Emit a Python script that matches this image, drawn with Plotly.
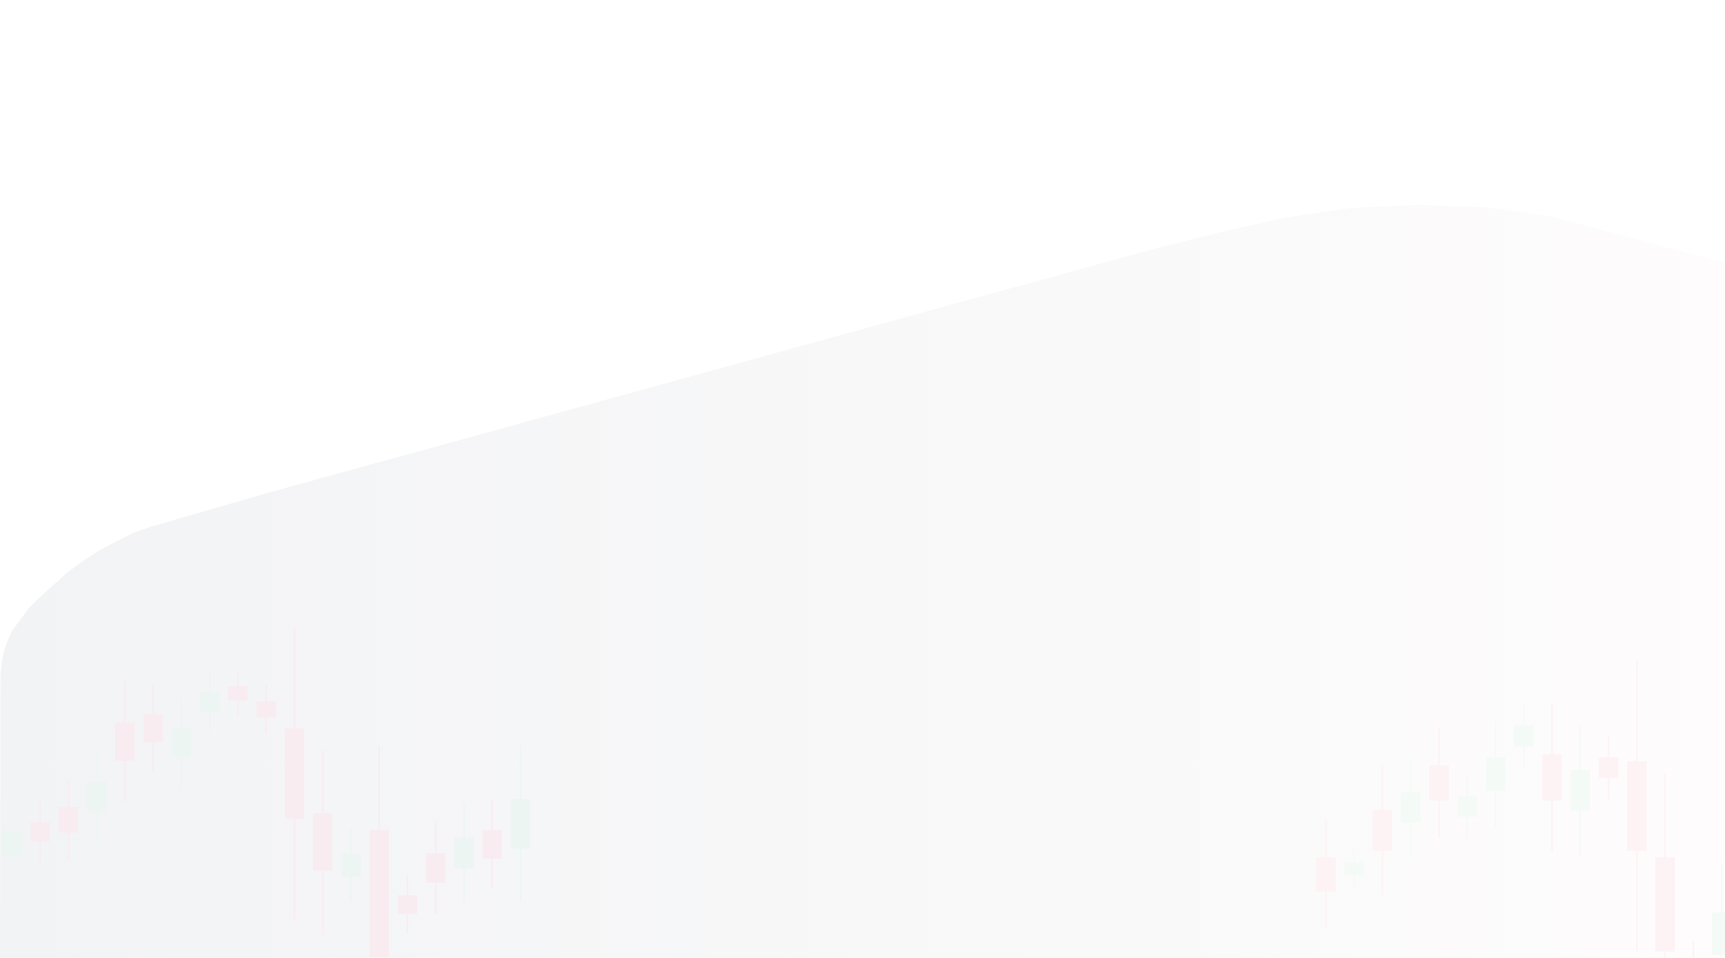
import plotly.graph_objects as go

#%% backdrop ridge (left edge -> peak -> right edge), px across / height up
ridge_x = [0, 0, 0.5, 1.7, 3.5, 6.7, 12, 20, 29, 40, 53, 66.7, 83, 100, 117, 133, 150, 167, 200, 260,
           1150, 1217, 1283, 1350, 1417, 1483, 1550, 1725, 1725]
ridge_h = [0, 271, 283, 295, 305, 315, 327, 338, 350, 361, 373, 385, 397, 408, 417, 425, 431, 436, 446, 463,
           708, 725, 740, 750, 753, 751, 742, 695, 0]

#%% faint candles, left cluster
left_idx = list(range(19))
left_open = [102, 135.3, 150, 147.3, 234.7, 243, 202, 247, 271.3, 256,
             228.7, 144, 82, 127.3, 62, 104, 90.3, 127.3, 110.3]
left_close = [126.3, 117.3, 126.3, 176, 198, 216.3, 228.7, 265.7, 258.3, 241.3,
              140.3, 88.3, 104, 2, 44.7, 76, 119.7, 100.3, 158]
left_high = [154.7, 156.3, 178, 208, 276.3, 274, 260.3, 287.3, 287.3, 273,
             330.3, 208, 129.7, 212.3, 82.7, 137, 154, 158.7, 212.3]
left_low = [74, 96, 98.7, 114.7, 156.3, 184.7, 170.3, 225.3, 242.7, 224,
            39, 23.3, 56.3, -5, 24, 44, 56.3, 70, 56.3]

#%% faint candles, right cluster
right_idx = [46.5 + k for k in range(15)]
right_open = [100, 84, 147.3, 136.3, 192, 142, 168, 212.3, 203, 148,
              200, 196, 100, -10, 3.7]
right_close = [67.3, 94.7, 108, 165, 158.3, 161, 200, 232, 158.3, 187.3,
               181, 108, 7.3, -30, 45]
right_high = [138, 107.3, 193, 198.7, 230.7, 182.3, 237, 254, 254.7, 233,
              222, 297.3, 184.7, 16.3, 94.7]
right_low = [30.3, 71.3, 63, 103, 120.3, 120.3, 131.3, 190.3, 107.3, 102,
             159, 7.3, -10, -40, -10]

fig = go.Figure()

fig.add_trace(go.Scatter(
    x=ridge_x, y=ridge_h, mode='lines', line=dict(width=0),
    fill='toself',
    fillgradient=dict(type='horizontal',
                      colorscale=[[0, '#f2f3f5'], [0.5, '#f8f8f9'], [1, '#fefcfd']]),
    hoverinfo='skip', showlegend=False,
))


def candles(x, o, h, l, c, up, down):
    return go.Candlestick(
        x=x, open=o, high=h, low=l, close=c,
        increasing=dict(line=dict(color=up, width=1.5), fillcolor=up),
        decreasing=dict(line=dict(color=down, width=1.5), fillcolor=down),
        whiskerwidth=0, hoverinfo='skip', showlegend=False,
        xaxis='x2', yaxis='y2',
    )


fig.add_trace(candles(left_idx, left_open, left_high, left_low, left_close, '#ecf5f1', '#f8ecf0'))
fig.add_trace(candles(right_idx, right_open, right_high, right_low, right_close, '#f4fbf6', '#fdf2f4'))

hidden = dict(visible=False, showgrid=False, zeroline=False, fixedrange=True)
fig.update_layout(
    width=1725, height=958,
    margin=dict(l=0, r=0, t=0, b=0),
    paper_bgcolor='white', plot_bgcolor='white',
    hovermode=False, showlegend=False,
    boxgap=0.095, boxgroupgap=0.3, boxmode='overlay',
    xaxis=dict(range=[0, 1725], **hidden),
    yaxis=dict(range=[0, 958], **hidden),
    xaxis2=dict(range=[-0.4176, 60.62], overlaying='x', rangeslider=dict(visible=False), **hidden),
    yaxis2=dict(range=[0, 958], overlaying='y', **hidden),
)

fig.write_html("out.html", config={'displayModeBar': False},
               post_script="document.body.style.margin='0';document.body.style.overflow='hidden';")
